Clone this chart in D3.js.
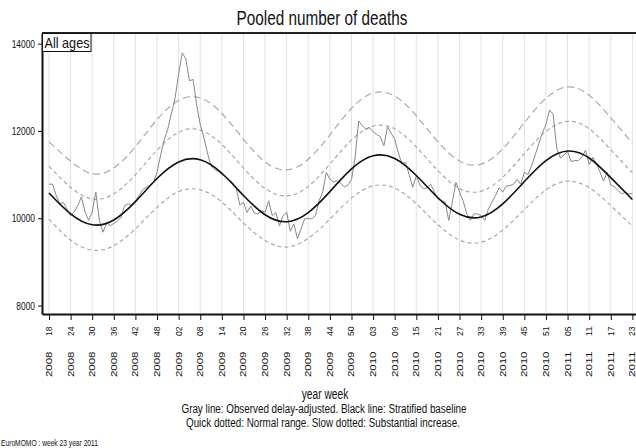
<!DOCTYPE html>
<html>
<head>
<meta charset="utf-8">
<script src="https://cdn.jsdelivr.net/npm/d3@7"></script>
<style>
  body { margin: 0; background: #fff; }
  svg { display: block; font-family: "Liberation Sans", Arial, sans-serif; }
</style>
</head>
<body>
<svg id="chart"></svg>
<script>
const width = 636;
const height = 448;

// weekly observed deaths, 2008 w18 .. 2011 w23
const observed = [
  10780, 10780, 10520, 10330, 10360, 10210, 10060, 10150, 10290, 10490,
  10150, 9950, 10140, 10600, 9950, 9680, 9890, 9830, 9880, 9940,
  10010, 10290, 10330, 10290, 10400, 10520, 10650, 10710, 10760, 10820,
  11050, 11450, 11800, 12050, 12400, 12750, 13300, 13790, 13650, 13150,
  13180, 12600, 12150, 11850, 11500, 11200, 11120, 11070, 11000, 10950,
  10880, 10820, 10680, 10300, 10360, 10130, 10280, 10120, 10100, 10170,
  10140, 10400, 10060, 10130, 9830, 10060, 10140, 9700, 9870, 9530,
  9760, 9990, 9990, 9990, 10060, 10400, 10600, 11050, 10900, 10830,
  10860, 10800, 10720, 10760, 10880, 11400, 12230, 12120, 12040, 12080,
  11980, 11920, 11870, 11660, 12100, 11950, 11810, 11500, 11250, 11280,
  11000, 10710, 10970, 10760, 10670, 10700, 10780, 10600, 10440, 10400,
  10370, 9950, 10370, 10820, 10600, 10400, 10100, 9950, 10100, 10100,
  10060, 9950, 10210, 10370, 10520, 10700, 10600, 10740, 10750, 10780,
  10890, 10780, 11050, 11000, 11200, 11450, 11700, 11950, 12150, 12480,
  12380, 11600, 11380, 11450, 11530, 11300, 11320, 11320, 11400, 11560,
  11230, 11400, 11250, 11060, 10850, 11050, 10760, 10720, 10640, 10560,
  10590, 10560, 10560
];

const tickLabels = [
  "2008 18", "2008 24", "2008 30", "2008 36", "2008 42", "2008 48",
  "2009 02", "2009 08", "2009 14", "2009 20", "2009 26", "2009 32",
  "2009 38", "2009 44", "2009 50", "2010 03", "2010 09", "2010 15",
  "2010 21", "2010 27", "2010 33", "2010 39", "2010 45", "2010 51",
  "2011 05", "2011 11", "2011 17", "2011 23"
];

// curves read at each labelled week
const baseline = [
  10578, 10100, 9850, 9960, 10380, 10910, 11290, 11340, 11030, 10520,
  10080, 9920, 10130, 10610, 11130, 11430, 11370, 10980, 10470, 10090,
  10030, 10330, 10840, 11320, 11540, 11380, 10930, 10430
];
const quickUpper = [
  11190, 10710, 10440, 10560, 11000, 11560, 11970, 12020, 11690, 11150,
  10680, 10510, 10730, 11240, 11790, 12110, 12050, 11630, 11090, 10680,
  10620, 10940, 11480, 11990, 12220, 12050, 11570, 11040
];
const slowUpper = [
  11750, 11310, 11020, 11150, 11640, 12260, 12700, 12760, 12400, 11810,
  11290, 11110, 11350, 11910, 12520, 12870, 12800, 12350, 11750, 11310,
  11240, 11590, 12190, 12750, 13010, 12820, 12300, 11720
];
const quickLower = [
  9980, 9500, 9270, 9370, 9760, 10250, 10610, 10650, 10370, 9890,
  9490, 9340, 9540, 9980, 10460, 10740, 10690, 10330, 9850, 9500,
  9450, 9730, 10200, 10650, 10850, 10700, 10290, 9820
];

const yTicks = [8000, 10000, 12000, 14000];

const tickWeeks = tickLabels.map((d, i) => i * 6);

const svg = d3.select("#chart").attr("width", width).attr("height", height);

const x = d3.scaleLinear().domain([-1.94, 163]).range([42, 636]);
const y = d3.scaleLinear().domain([7805, 14245]).range([314, 33]);

// vertical grid
svg.append("g")
  .selectAll("line")
  .data(tickWeeks)
  .enter()
  .append("line")
  .attr("x1", (d) => x(d))
  .attr("x2", (d) => x(d))
  .attr("y1", 34)
  .attr("y2", 313)
  .attr("stroke", "#e2e2e2")
  .attr("stroke-width", 1);

const bandLine = d3.line()
  .x((d, i) => x(tickWeeks[i]))
  .y((d) => y(d))
  .curve(d3.curveNatural);

svg.append("path")
  .attr("d", bandLine(slowUpper))
  .attr("fill", "none")
  .attr("stroke", "#aaa")
  .attr("stroke-width", 1.2)
  .attr("stroke-dasharray", "7,4");

[quickUpper, quickLower].forEach((s) => {
  svg.append("path")
    .attr("d", bandLine(s))
    .attr("fill", "none")
    .attr("stroke", "#aaa")
    .attr("stroke-width", 1.2)
    .attr("stroke-dasharray", "4,3");
});

const obsLine = d3.line()
  .x((d, i) => x(i))
  .y((d) => y(d));

svg.append("path")
  .attr("d", obsLine(observed))
  .attr("fill", "none")
  .attr("stroke", "#888")
  .attr("stroke-width", 1);

svg.append("path")
  .attr("d", bandLine(baseline))
  .attr("fill", "none")
  .attr("stroke", "#111")
  .attr("stroke-width", 1.6);

// frame
svg.append("line")
  .attr("x1", 42).attr("x2", 636)
  .attr("y1", 33).attr("y2", 33)
  .attr("stroke", "#222").attr("stroke-width", 2);

const yAxis = svg.append("g")
  .attr("transform", "translate(42,0)")
  .call(d3.axisLeft(y).tickValues(yTicks).tickSize(4).tickSizeOuter(0).tickFormat(d3.format("d")));
yAxis.select(".domain").attr("stroke", "#111").attr("stroke-width", 2);
yAxis.selectAll(".tick line").attr("stroke", "#111");
yAxis.selectAll(".tick text")
  .attr("x", -7)
  .attr("font-size", 11)
  .attr("fill", "#111")
  .attr("textLength", (d) => String(d).length * 4.66)
  .attr("lengthAdjust", "spacingAndGlyphs");

const xAxis = svg.append("g")
  .attr("transform", "translate(0,314)")
  .call(d3.axisBottom(x).tickValues(tickWeeks).tickSize(6).tickSizeOuter(0).tickFormat(""));
xAxis.select(".domain").attr("stroke", "#111").attr("stroke-width", 2);
xAxis.selectAll(".tick line").attr("stroke", "#111");

const labels = svg.append("g").attr("font-size", 8.5).attr("fill", "#111");
tickLabels.forEach((lab, i) => {
  const [yr, wk] = lab.split(" ");
  const px = x(tickWeeks[i]) + 3;
  labels.append("text")
    .attr("transform", `translate(${px},326.5) rotate(-90)`)
    .attr("text-anchor", "end")
    .attr("textLength", 9.5)
    .attr("lengthAdjust", "spacingAndGlyphs")
    .text(wk);
  labels.append("text")
    .attr("transform", `translate(${px},351.5) rotate(-90)`)
    .attr("text-anchor", "end")
    .attr("textLength", 25.5)
    .attr("lengthAdjust", "spacingAndGlyphs")
    .text(yr);
});

// panel label
svg.append("rect")
  .attr("x", 42.5).attr("y", 33.5)
  .attr("width", 48.5).attr("height", 18)
  .attr("fill", "#fff")
  .attr("stroke", "#111");
svg.append("text")
  .attr("x", 44.5).attr("y", 48)
  .attr("font-size", 15)
  .attr("textLength", 45)
  .attr("lengthAdjust", "spacingAndGlyphs")
  .attr("fill", "#111")
  .text("All ages");

// titles and notes
svg.append("text")
  .attr("x", 322).attr("y", 25)
  .attr("text-anchor", "middle")
  .attr("font-size", 21)
  .attr("textLength", 171)
  .attr("lengthAdjust", "spacingAndGlyphs")
  .attr("fill", "#111")
  .text("Pooled number of deaths");

svg.append("text")
  .attr("x", 325).attr("y", 399)
  .attr("text-anchor", "middle")
  .attr("font-size", 14)
  .attr("textLength", 46.5)
  .attr("lengthAdjust", "spacingAndGlyphs")
  .attr("fill", "#111")
  .text("year week");

svg.append("text")
  .attr("x", 324).attr("y", 413)
  .attr("text-anchor", "middle")
  .attr("font-size", 12)
  .attr("textLength", 285)
  .attr("lengthAdjust", "spacingAndGlyphs")
  .attr("fill", "#111")
  .text("Gray line: Observed delay-adjusted. Black line: Stratified baseline");

svg.append("text")
  .attr("x", 323).attr("y", 427)
  .attr("text-anchor", "middle")
  .attr("font-size", 12)
  .attr("textLength", 274)
  .attr("lengthAdjust", "spacingAndGlyphs")
  .attr("fill", "#111")
  .text("Quick dotted: Normal range. Slow dotted: Substantial increase.");

svg.append("text")
  .attr("x", 1).attr("y", 446)
  .attr("font-size", 9)
  .attr("textLength", 97)
  .attr("lengthAdjust", "spacingAndGlyphs")
  .attr("fill", "#111")
  .text("EuroMOMO : week 23 year 2011");
</script>
</body>
</html>
